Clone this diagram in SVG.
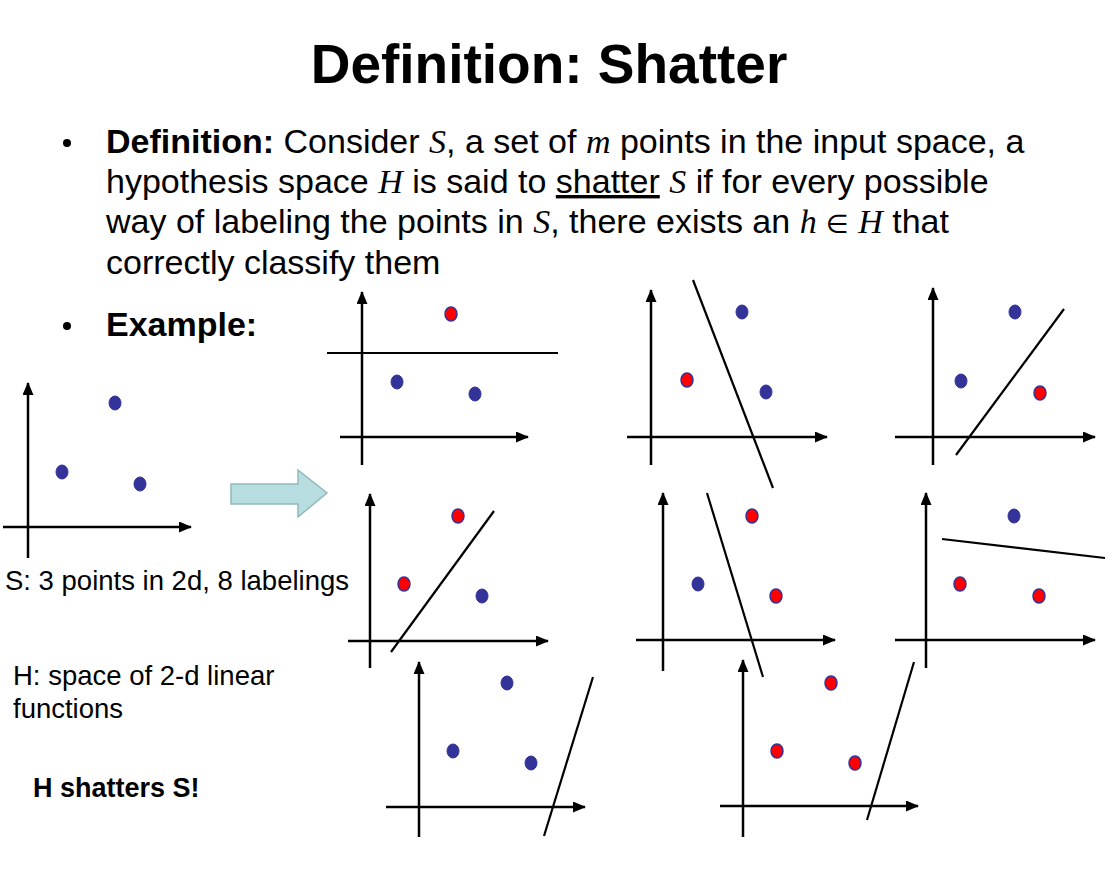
<svg xmlns="http://www.w3.org/2000/svg" width="1118" height="870" viewBox="0 0 1118 870">
<style>
.t{font-family:"Liberation Sans",Arial,sans-serif;fill:#000}
.b{font-weight:bold}
.m{font-family:"Liberation Serif","Times New Roman",serif;font-style:italic}
.ax{stroke:#000;stroke-width:2.5;fill:none;marker-end:url(#ah)}
.sep{stroke:#000;stroke-width:2.2;fill:none}
.bl{fill:#333399;stroke:#333399;stroke-width:1}
.rd{fill:#ff0000;stroke:#333399;stroke-width:1.5}
</style>
<defs>
<marker id="ah" markerUnits="userSpaceOnUse" markerWidth="13" markerHeight="11" refX="12" refY="5.5" orient="auto">
<path d="M0,0 L13,5.5 L0,11 z" fill="#000"/>
</marker>
</defs>
<rect width="1118" height="870" fill="#fff"/>
<g id="title"><text class="t b" x="549" y="83" font-size="55" text-anchor="middle">Definition: Shatter</text></g>
<g id="definition" class="t" font-size="34">
<circle cx="67" cy="143" r="4" fill="#000"/>
<text x="106" y="153"><tspan class="b">Definition:</tspan> Consider <tspan class="m">S</tspan>, a set of <tspan class="m">m</tspan> points in the input space, a</text>
<text x="106" y="193">hypothesis space <tspan class="m">H</tspan> is said to <tspan text-decoration="underline">shatter</tspan> <tspan class="m">S</tspan> if for every possible</text>
<text x="106" y="233">way of labeling the points in <tspan class="m">S</tspan>, there exists an <tspan class="m">h</tspan> <tspan font-family="'DejaVu Sans',sans-serif" font-size="26">∈</tspan> <tspan class="m">H</tspan> that</text>
<text x="106" y="274">correctly classify them</text>
<circle cx="67" cy="326" r="4" fill="#000"/>
<text class="b" x="106" y="336">Example:</text>
</g>
<g id="plot-S">
<line class="ax" x1="28" y1="558" x2="28" y2="383"/>
<line class="ax" x1="3" y1="527" x2="191" y2="527"/>
<ellipse class="bl" cx="115" cy="403" rx="6" ry="7"/>
<ellipse class="bl" cx="62" cy="472" rx="6" ry="7"/>
<ellipse class="bl" cx="140" cy="484" rx="6" ry="7"/>
</g>
<g id="labels" class="t" font-size="27.5">
<text x="5" y="590">S: 3 points in 2d, 8 labelings</text>
<text x="13" y="685">H: space of 2-d linear</text>
<text x="13" y="718">functions</text>
<text class="b" x="33" y="797" font-size="27">H shatters S!</text>
</g>
<g id="connectors">
<path d="M231,484 L298,484 L298,470 L327,493 L298,517 L298,504 L231,504 z" fill="#b7dde1" stroke="#8fb9bb" stroke-width="1.5"/>
</g>
<g id="plot-1">
<line class="ax" x1="362" y1="465" x2="362" y2="292"/>
<line class="ax" x1="340" y1="437" x2="528" y2="437"/>
<line class="sep" x1="327" y1="353" x2="558" y2="353"/>
<ellipse class="rd" cx="451" cy="314" rx="6" ry="7"/>
<ellipse class="bl" cx="397" cy="382" rx="6" ry="7"/>
<ellipse class="bl" cx="475" cy="394" rx="6" ry="7"/>
</g>
<g id="plot-2">
<line class="ax" x1="651" y1="465" x2="651" y2="290"/>
<line class="ax" x1="627" y1="437" x2="827" y2="437"/>
<line class="sep" x1="693" y1="280" x2="773" y2="488"/>
<ellipse class="bl" cx="742" cy="312" rx="6" ry="7"/>
<ellipse class="rd" cx="687" cy="380" rx="6" ry="7"/>
<ellipse class="bl" cx="766" cy="392" rx="6" ry="7"/>
</g>
<g id="plot-3">
<line class="ax" x1="933" y1="465" x2="933" y2="288"/>
<line class="ax" x1="895" y1="437" x2="1095" y2="437"/>
<line class="sep" x1="956" y1="455" x2="1064" y2="309"/>
<ellipse class="bl" cx="1015" cy="312" rx="6" ry="7"/>
<ellipse class="bl" cx="961" cy="381" rx="6" ry="7"/>
<ellipse class="rd" cx="1040" cy="393" rx="6" ry="7"/>
</g>
<g id="plot-4">
<line class="ax" x1="370" y1="668" x2="370" y2="494"/>
<line class="ax" x1="348" y1="641" x2="548" y2="641"/>
<line class="sep" x1="391" y1="652" x2="494" y2="511"/>
<ellipse class="rd" cx="458" cy="516" rx="6" ry="7"/>
<ellipse class="rd" cx="404" cy="584" rx="6" ry="7"/>
<ellipse class="bl" cx="482" cy="596" rx="6" ry="7"/>
</g>
<g id="plot-5">
<line class="ax" x1="663" y1="671" x2="663" y2="493"/>
<line class="ax" x1="636" y1="640" x2="835" y2="640"/>
<line class="sep" x1="707" y1="493" x2="763" y2="677"/>
<ellipse class="rd" cx="752" cy="516" rx="6" ry="7"/>
<ellipse class="bl" cx="698" cy="584" rx="6" ry="7"/>
<ellipse class="rd" cx="776" cy="596" rx="6" ry="7"/>
</g>
<g id="plot-6">
<line class="ax" x1="926" y1="668" x2="926" y2="493"/>
<line class="ax" x1="895" y1="640" x2="1095" y2="640"/>
<line class="sep" x1="942" y1="539" x2="1105" y2="558"/>
<ellipse class="bl" cx="1014" cy="516" rx="6" ry="7"/>
<ellipse class="rd" cx="960" cy="584" rx="6" ry="7"/>
<ellipse class="rd" cx="1039" cy="596" rx="6" ry="7"/>
</g>
<g id="plot-7">
<line class="ax" x1="419" y1="837" x2="419" y2="662"/>
<line class="ax" x1="386" y1="807" x2="585" y2="807"/>
<line class="sep" x1="544" y1="836" x2="593" y2="677"/>
<ellipse class="bl" cx="507" cy="683" rx="6" ry="7"/>
<ellipse class="bl" cx="453" cy="751" rx="6" ry="7"/>
<ellipse class="bl" cx="531" cy="763" rx="6" ry="7"/>
</g>
<g id="plot-8">
<line class="ax" x1="743" y1="837" x2="743" y2="660"/>
<line class="ax" x1="720" y1="806" x2="918" y2="806"/>
<line class="sep" x1="867" y1="820" x2="914" y2="662"/>
<ellipse class="rd" cx="831" cy="683" rx="6" ry="7"/>
<ellipse class="rd" cx="777" cy="751" rx="6" ry="7"/>
<ellipse class="rd" cx="855" cy="763" rx="6" ry="7"/>
</g>
</svg>
